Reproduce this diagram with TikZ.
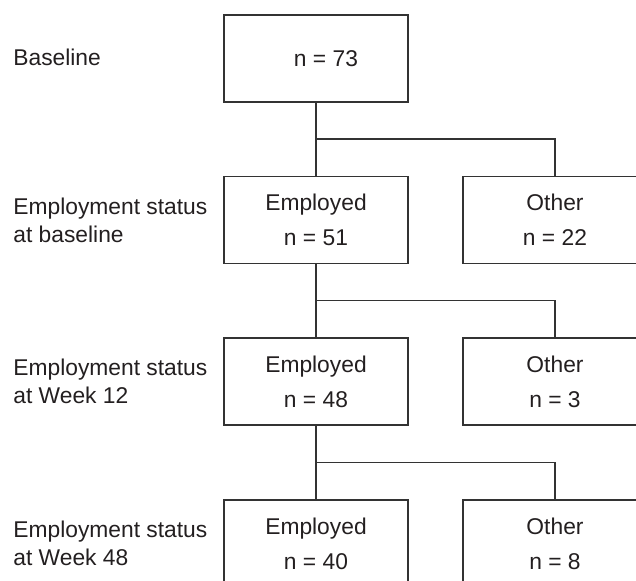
\documentclass[tikz,border=0pt]{standalone}
\usepackage{fontspec}
\setmainfont{Liberation Sans}
\usepackage{tikz}
\usetikzlibrary{positioning,calc}

\definecolor{inkgray}{HTML}{231F20}
\definecolor{linegray}{HTML}{333333}

\tikzset{
    groupbox/.style={draw=linegray, line width=0.75pt, minimum width=92pt, minimum height=43.5pt,
        inner sep=0pt, align=center, text=inkgray, font=\fontsize{11.4}{17.5}\selectfont},
    rowlabel/.style={anchor=west, align=left, inner sep=0pt, text=inkgray,
        font=\fontsize{11.4}{14}\selectfont},
    link/.style={draw=linegray, line width=0.75pt}
}

\begin{document}
\begin{tikzpicture}[x=0.5pt, y=-0.5pt]
    \clip (0,0) rectangle (636,581);

    % Baseline
    \node[rowlabel] (lab0) at (13, 57) {Baseline};
    \node[groupbox] (all) at (316, 58.5) {\hspace*{10pt}n = 73};

    % Employment status at baseline
    \node[rowlabel] (lab1) at (13, 220) {Employment status\\at baseline};
    \node[groupbox] (emp1) at (316, 220) {Employed\\n = 51};
    \node[groupbox] (oth1) at (555, 220) {Other\\n = 22};

    % Employment status at Week 12
    \node[rowlabel] (lab2) at (13, 381.5) {Employment status\\at Week 12};
    \node[groupbox] (emp2) at (316, 381.5) {Employed\\n = 48};
    \node[groupbox] (oth2) at (555, 381.5) {Other\\n = 3};

    % Employment status at Week 48
    \node[rowlabel] (lab3) at (13, 543.5) {Employment status\\at Week 48};
    \node[groupbox] (emp3) at (316, 543.5) {Employed\\n = 40};
    \node[groupbox] (oth3) at (555, 543.5) {Other\\n = 8};

    % Splits
    \coordinate (split1) at ($(all.south)!0.5!(emp1.north)$);
    \coordinate (split2) at ($(emp1.south)!0.5!(emp2.north)$);
    \coordinate (split3) at ($(emp2.south)!0.5!(emp3.north)$);

    \draw[link] (all.south) -- (emp1.north);
    \draw[link] (split1) -| (oth1.north);
    \draw[link] (emp1.south) -- (emp2.north);
    \draw[link] (split2) -| (oth2.north);
    \draw[link] (emp2.south) -- (emp3.north);
    \draw[link] (split3) -| (oth3.north);
\end{tikzpicture}
\end{document}
